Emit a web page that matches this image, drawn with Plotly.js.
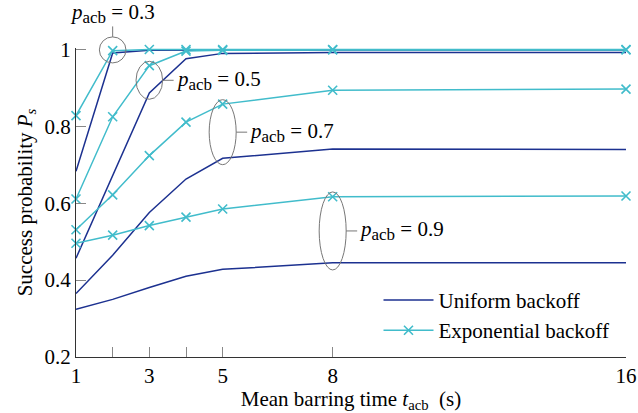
<!DOCTYPE html>
<html>
<head>
<meta charset="utf-8">
<script src="https://cdn.plot.ly/plotly-3.0.1.min.js"></script>
<style>html,body{margin:0;padding:0;background:#fff;}#chart{width:638px;height:413px;}</style>
</head>
<body>
<div id="chart"></div>
<script>
// ---- data ----
const barringTime = [1, 2, 3, 4, 5, 8, 16];
const pacbLevels = ["0.3", "0.5", "0.7", "0.9"];
const uniform03 = [0.683, 0.991, 0.998, 0.999, 0.999, 0.999, 0.999];
const uniform05 = [0.457, 0.672, 0.887, 0.976, 0.990, 0.992, 0.992];
const uniform07 = [0.365, 0.465, 0.576, 0.663, 0.717, 0.741, 0.740];
const uniform09 = [0.324, 0.350, 0.381, 0.410, 0.428, 0.445, 0.445];
const expo03 = [0.828, 0.997, 1.000, 1.000, 1.000, 1.000, 1.000];
const expo05 = [0.611, 0.825, 0.958, 0.996, 0.998, 0.999, 0.999];
const expo07 = [0.531, 0.622, 0.724, 0.811, 0.858, 0.894, 0.897];
const expo09 = [0.496, 0.517, 0.542, 0.564, 0.585, 0.617, 0.619];
const xTickVals = [1, 2, 3, 4, 5, 8, 16];
const xTickText = ["1", "", "3", "", "5", "8", "16"];
const yTickVals = [0.2, 0.4, 0.6, 0.8, 1];
const yTickText = ["0.2", "0.4", "0.6", "0.8", "1"];

// ---- styling ----
const NAVY = "#1c3190";
const CYAN = "#41bccb";
const FONT = "'Liberation Serif'";
const FS = 21;

const uniformSeries = [uniform03, uniform05, uniform07, uniform09];
const expoSeries = [expo03, expo05, expo07, expo09];

const traces = [];
uniformSeries.forEach((ys, i) => {
  traces.push({
    x: barringTime, y: ys, type: "scatter", mode: "lines",
    name: "Uniform backoff", legendgroup: "u", showlegend: i === 0,
    line: {color: NAVY, width: 1.5}, cliponaxis: false, hoverinfo: "skip"
  });
});
expoSeries.forEach((ys, i) => {
  traces.push({
    x: barringTime, y: ys, type: "scatter", mode: "lines+markers",
    name: "Exponential backoff", legendgroup: "e", showlegend: i === 0,
    line: {color: CYAN, width: 1.5},
    marker: {symbol: "x-thin", size: 9, line: {color: CYAN, width: 1.6}, color: CYAN},
    cliponaxis: false, hoverinfo: "skip"
  });
});

// geometry helpers (paper coords)
const M = {l: 76, r: 12, t: 48, b: 56};
const W = 638, H = 413;
const PW = W - M.l - M.r, PH = H - M.t - M.b;
const XR = [1, 16], YR = [0.2, 1.004];
const dx = x => (x - XR[0]) / (XR[1] - XR[0]);
const dy = y => (y - YR[0]) / (YR[1] - YR[0]);
const px = p => p / PW;
const py = p => p / PH;

const ell = [
  {cx: 2, cy: 0.999, rx: 13.3, ry: 13, side: "top"},
  {cx: 3, cy: 0.920, rx: 13.3, ry: 19, side: "right"},
  {cx: 5, cy: 0.785, rx: 13.5, ry: 32.5, side: "right"},
  {cx: 8, cy: 0.528, rx: 13.5, ry: 39, side: "right"}
];
const shapes = [];
const annotations = [];
ell.forEach((e, i) => {
  const X = dx(e.cx), Y = dy(e.cy);
  shapes.push({type: "circle", xref: "paper", yref: "paper",
    x0: X - px(e.rx), x1: X + px(e.rx), y0: Y - py(e.ry), y1: Y + py(e.ry),
    line: {color: "#777", width: 1}});
  const label = "<i>p</i><sub><span style=\"font-size:17px\">acb</span></sub> = " + pacbLevels[i];
  if (e.side === "top") {
    shapes.push({type: "line", xref: "paper", yref: "paper",
      x0: X, x1: X, y0: Y + py(e.ry), y1: Y + py(e.ry + 10.5),
      line: {color: "#777", width: 1}});
    annotations.push({xref: "paper", yref: "paper", x: X, y: Y + py(e.ry + 23),
      xanchor: "center", yanchor: "middle", showarrow: false, text: label,
      font: {family: FONT, size: FS, color: "#000"}});
  } else {
    shapes.push({type: "line", xref: "paper", yref: "paper",
      x0: X + px(e.rx), x1: X + px(e.rx + 11), y0: Y, y1: Y,
      line: {color: "#777", width: 1}});
    annotations.push({xref: "paper", yref: "paper", x: X + px(e.rx + 11), y: Y,
      xanchor: "left", yanchor: "middle", showarrow: false, text: label,
      font: {family: FONT, size: FS, color: "#000"}});
  }
});

const layout = {
  width: W, height: H,
  margin: M,
  paper_bgcolor: "#fff", plot_bgcolor: "#fff",
  font: {family: FONT, size: FS, color: "#000"},
  showlegend: true,
  legend: {x: 0.55, y: 0.25, xanchor: "left", yanchor: "top", itemwidth: 50,
    bgcolor: "rgba(0,0,0,0)", font: {family: FONT, size: FS, color: "#000"}, tracegroupgap: 0},
  xaxis: {
    range: XR, tickmode: "array", tickvals: xTickVals, ticktext: xTickText,
    ticks: "inside", ticklen: 10, tickcolor: "#888", tickwidth: 1,
    tickfont: {family: FONT, size: FS, color: "#000"},
    showline: true, linecolor: "#333", linewidth: 1, showgrid: false, zeroline: false,
    title: {text: "Mean barring time <i>t</i><sub>acb</sub>  (s)", font: {family: FONT, size: FS, color: "#000"}, standoff: 2}
  },
  yaxis: {
    range: YR, tickmode: "array", tickvals: yTickVals, ticktext: yTickText,
    ticks: "inside", ticklen: 10, tickcolor: "#888", tickwidth: 1,
    tickfont: {family: FONT, size: FS, color: "#000"},
    showline: true, linecolor: "#333", linewidth: 1, showgrid: false, zeroline: false,
    title: {text: "Success probability <i>P<sub>s</sub></i>", font: {family: FONT, size: FS, color: "#000"}, standoff: 6}
  },
  shapes: shapes,
  annotations: annotations
};

Plotly.newPlot("chart", traces, layout, {staticPlot: true, displayModeBar: false});
</script>
</body>
</html>
